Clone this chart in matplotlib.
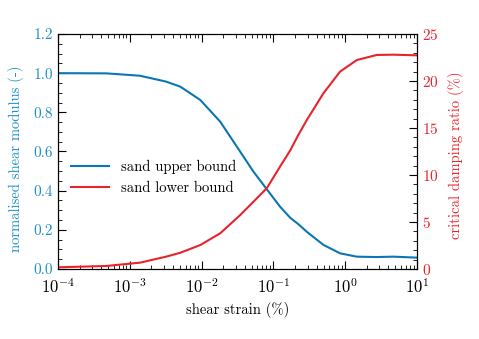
import matplotlib
matplotlib.use("Agg")
import matplotlib.pyplot as plt
from matplotlib.ticker import MultipleLocator, LogLocator, NullFormatter

# shear strain (%) and the two read-off curves
strain = [1e-4, 4.7e-4, 1.38e-3, 3.2e-3, 5.06e-3, 9.6e-3, 0.0182, 0.0345,
          0.0528, 0.081, 0.124, 0.171, 0.224, 0.292, 0.498, 0.849, 1.45,
          2.75, 4.68, 10.0]
g_ratio = [1.0, 0.999, 0.987, 0.957, 0.931, 0.863, 0.752, 0.599,
           0.497, 0.407, 0.318, 0.262, 0.228, 0.19, 0.123, 0.08, 0.063,
           0.061, 0.063, 0.058]
damping = [0.18, 0.32, 0.67, 1.31, 1.73, 2.55, 3.8, 5.74,
           7.16, 8.6, 10.9, 12.6, 14.3, 15.85, 18.7, 21.0, 22.23,
           22.77, 22.8, 22.73]

blue = '#0b76b3'
blue_txt = '#1f8fc6'
red = '#e8232b'

plt.rcParams['font.family'] = 'cmr10'
plt.rcParams['mathtext.fontset'] = 'cm'
plt.rcParams['axes.formatter.use_mathtext'] = True
plt.rcParams['font.size'] = 10.5

fig = plt.figure(figsize=(4.79, 3.39), dpi=100)
ax1 = fig.add_axes([0.121, 0.2065, 0.7496, 0.6932])
ax2 = ax1.twinx()

l1, = ax1.plot(strain, g_ratio, color=blue, lw=1.5, label='sand upper bound',
               solid_joinstyle='round')
l2, = ax2.plot(strain, damping, color=red, lw=1.5, label='sand lower bound',
               solid_joinstyle='round')

ax1.set_xscale('log')
ax1.set_xlim(1e-4, 1e1)
ax1.set_ylim(0, 1.2)
ax2.set_ylim(0, 25)

ax1.xaxis.set_major_locator(LogLocator(base=10, numticks=10))
ax1.xaxis.set_minor_locator(LogLocator(base=10, subs=range(2, 10), numticks=20))
ax1.xaxis.set_minor_formatter(NullFormatter())
ax1.yaxis.set_major_locator(MultipleLocator(0.2))
ax1.yaxis.set_minor_locator(MultipleLocator(0.05))
ax1.yaxis.set_major_formatter(plt.FormatStrFormatter('%.1f'))
ax2.yaxis.set_major_locator(MultipleLocator(5))
ax2.yaxis.set_minor_locator(MultipleLocator(1))

ax1.tick_params(axis='x', which='both', direction='in', top=True, labelsize=12, pad=6)
ax1.tick_params(axis='x', which='major', length=6)
ax1.tick_params(axis='x', which='minor', length=3)
ax1.tick_params(axis='y', which='both', direction='in', right=False, labelcolor=blue_txt, labelsize=11)
ax1.tick_params(axis='y', which='major', length=6)
ax1.tick_params(axis='y', which='minor', length=3)
ax2.tick_params(axis='y', which='both', direction='in', labelcolor=red, labelsize=11)
ax2.tick_params(axis='y', which='major', length=6)
ax2.tick_params(axis='y', which='minor', length=3)

ax1.set_xlabel('shear strain (%)')
ax1.set_ylabel('normalised shear modulus (-)', color=blue_txt)
ax1.yaxis.set_label_coords(-0.095, 0.47)
ax2.set_ylabel('critical damping ratio (%)', color=red)
ax2.yaxis.set_label_coords(1.086, 0.485)

ax1.legend(handles=[l1, l2], loc='center left', bbox_to_anchor=(0.0, 0.39),
           frameon=False, handlelength=2.6, fontsize=10.5)

fig.savefig('out.png', dpi=100)
